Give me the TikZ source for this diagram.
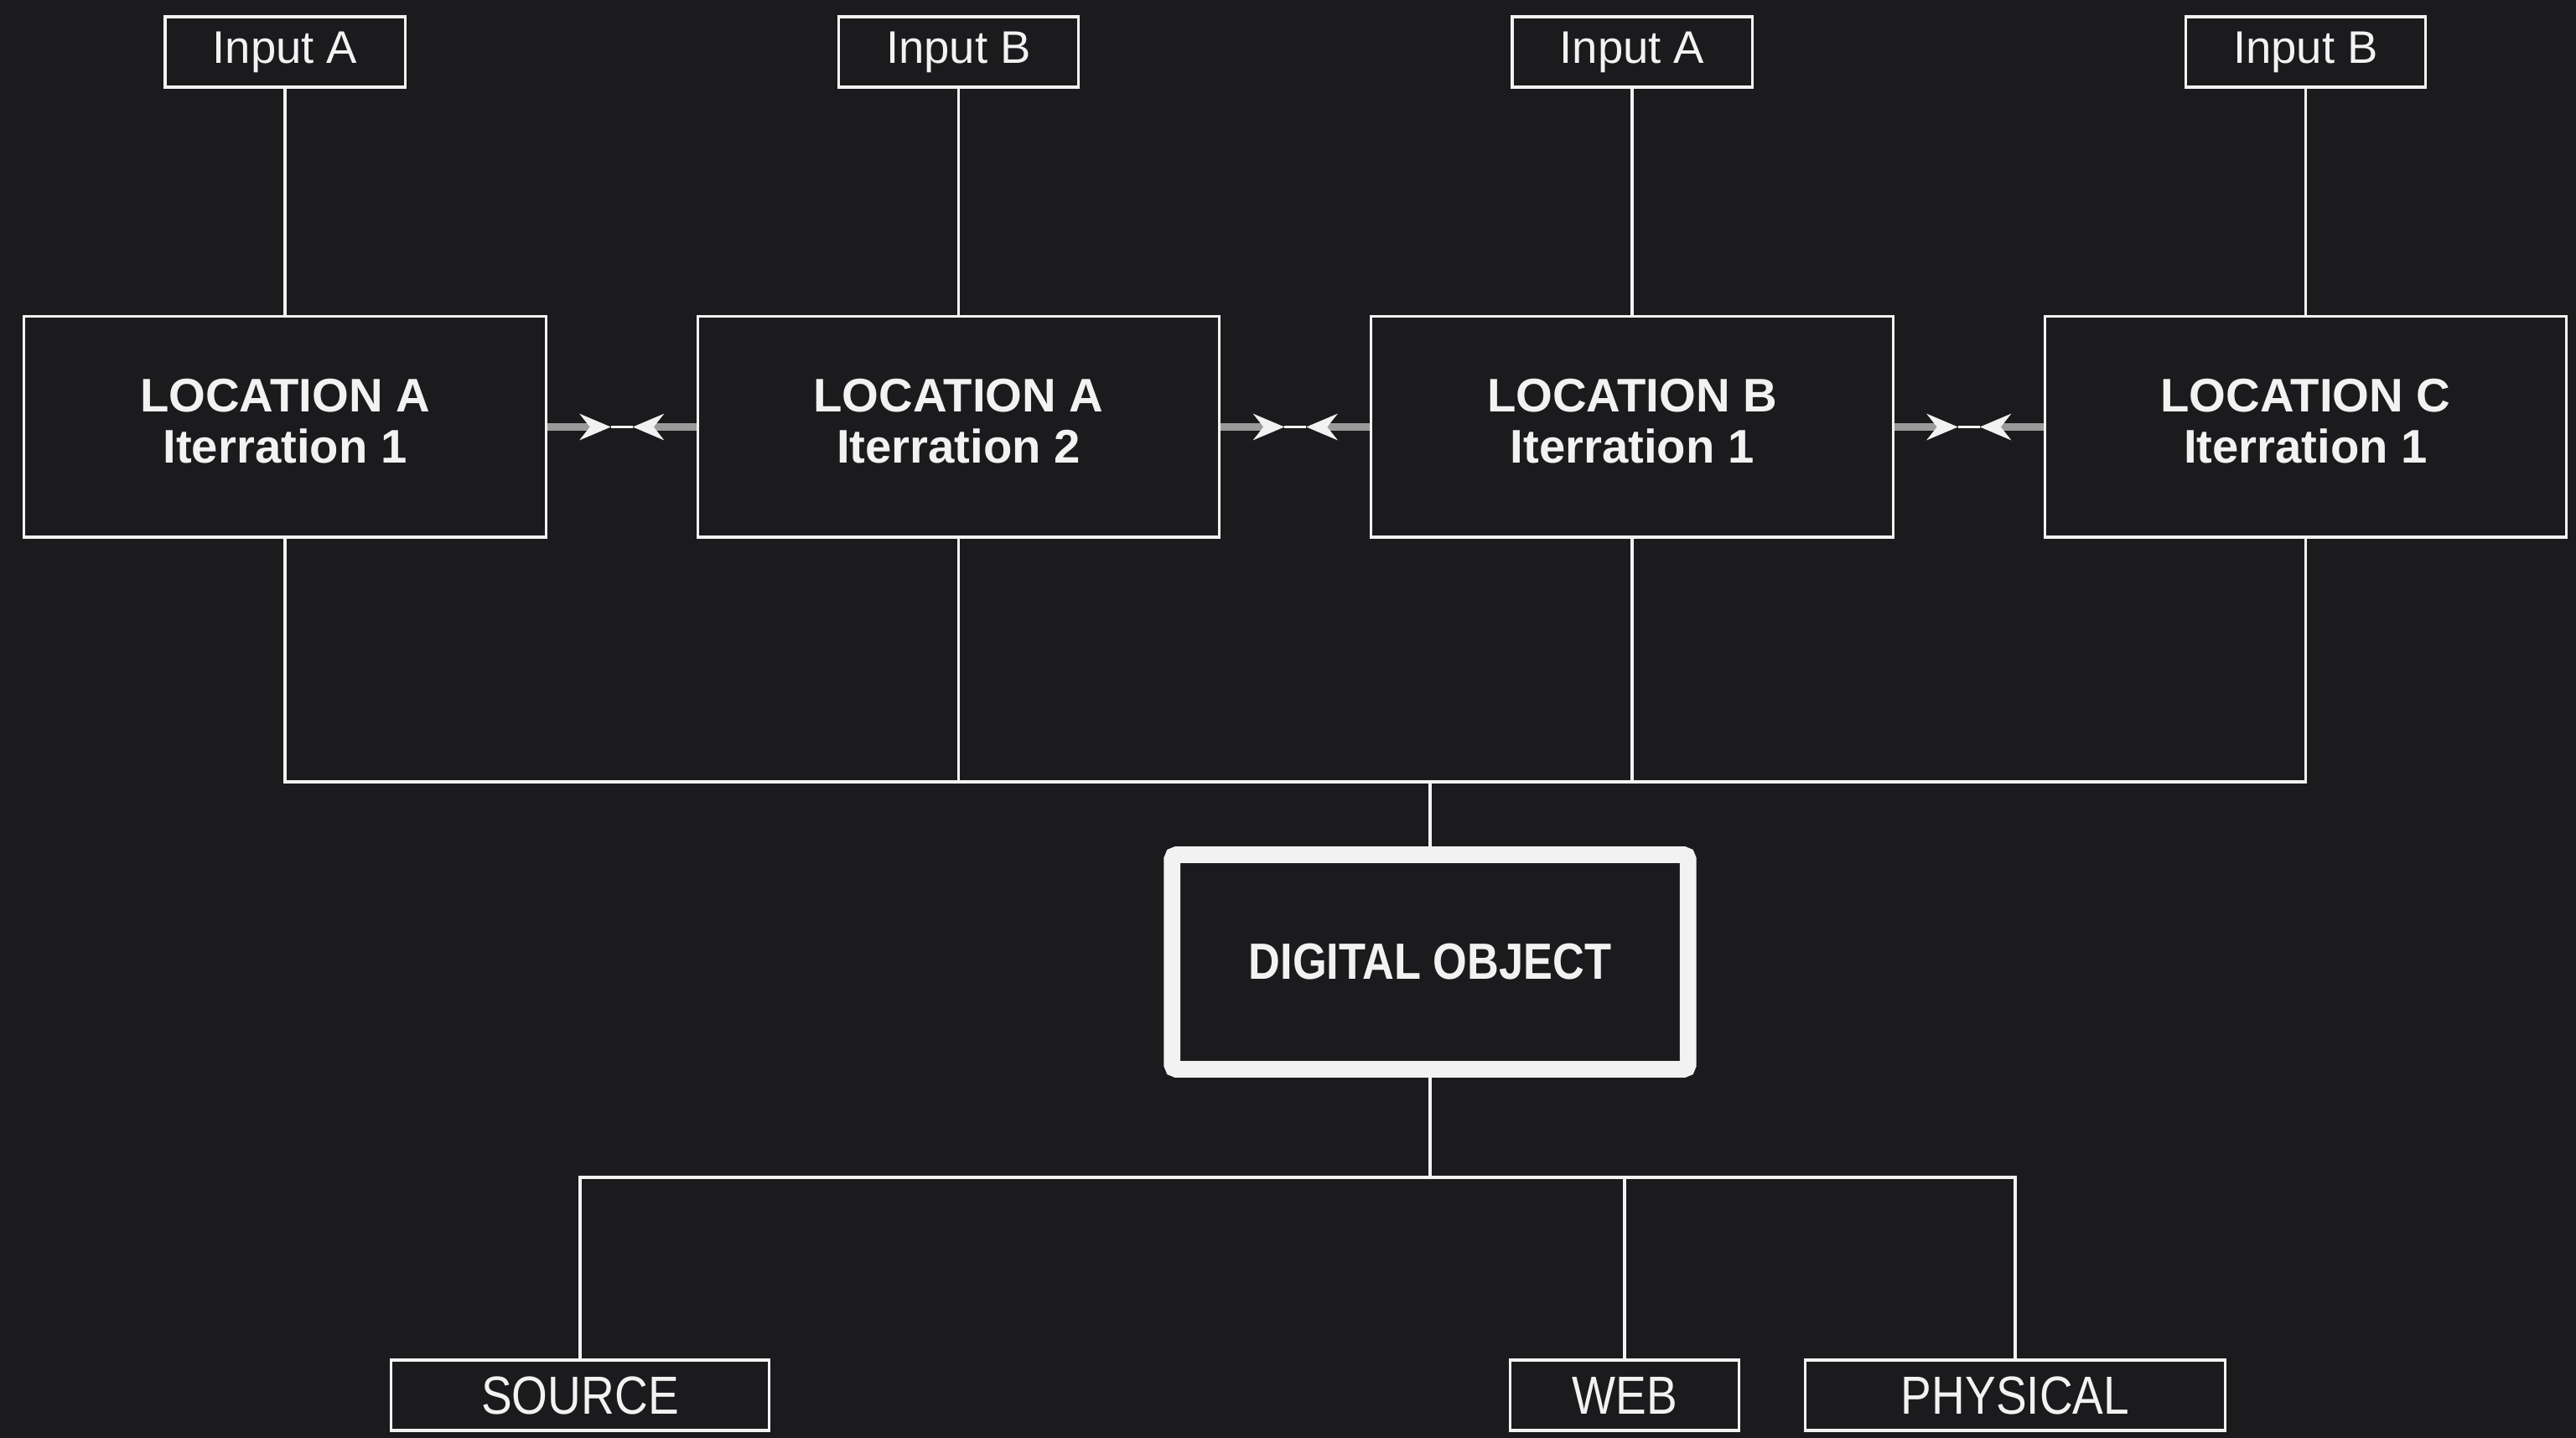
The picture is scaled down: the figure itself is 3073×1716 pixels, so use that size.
\documentclass[tikz,border=0pt]{standalone}
\usepackage{fontspec}
\setmainfont{Liberation Sans}
\newfontfamily\condfont[FakeStretch=0.86]{Liberation Sans}
\usetikzlibrary{arrows.meta,calc}
\definecolor{bgc}{HTML}{1B1A1D}
\definecolor{fgc}{HTML}{F2F2F2}
\definecolor{shaft}{HTML}{9A9A9A}
\tikzset{
  inbox/.style={draw=fgc, line width=0.9pt, text=fgc, minimum width=2.86cm, minimum height=0.84cm, inner sep=0pt, font=\fontsize{15.5}{17}\selectfont},
  locbox/.style={draw=fgc, line width=0.9pt, text=fgc, minimum width=6.22cm, minimum height=2.63cm, inner sep=0pt, align=center, font=\bfseries\fontsize{16}{17.4}\selectfont},
  dobox/.style={draw=fgc, line width=5.6pt, text=fgc, minimum width=6.15cm, minimum height=2.56cm, inner sep=0pt, rounded corners=1.5pt, font=\bfseries\condfont\fontsize{17.3}{18}\selectfont},
  outbox/.style={draw=fgc, line width=0.9pt, text=fgc, minimum height=0.84cm, inner sep=0pt, font=\condfont\fontsize{18.2}{19}\selectfont},
  wire/.style={draw=fgc, line width=0.9pt},
  link/.style={draw=shaft, line width=2.5pt, -{Stealth[length=0.37cm, width=0.31cm, inset=0.12cm, color=fgc]}},
  gap/.style={draw=fgc, line width=0.8pt}
}
\newcommand{\loclabel}[2]{\raisebox{0.06cm}{\begin{tabular}{@{}c@{}}#1\\#2\end{tabular}}}
\begin{document}
\begin{tikzpicture}[x=0.01cm, y=-0.01cm]
\fill[bgc] (0,0) rectangle (3073,1716);
\useasboundingbox (0,0) rectangle (3073,1716);
% location boxes
\node[locbox] (l1) at (340,509.5) {\loclabel{LOCATION A}{Iterration 1}};
\node[locbox] (l2) at (1143.5,509.5) {\loclabel{LOCATION A}{Iterration 2}};
\node[locbox] (l3) at (1947,509.5) {\loclabel{LOCATION B}{Iterration 1}};
\node[locbox] (l4) at (2750.5,509.5) {\loclabel{LOCATION C}{Iterration 1}};
% inputs
\node[inbox] (i1) at (340,62) {Input A};
\node[inbox] (i2) at (1143.5,62) {Input B};
\node[inbox] (i3) at (1947,62) {Input A};
\node[inbox] (i4) at (2750.5,62) {Input B};
\foreach \k in {1,2,3,4}{\draw[wire] (i\k.south) -- (l\k.north);}
% links between locations
\foreach \a/\b in {l1/l2,l2/l3,l3/l4}{
  \coordinate (\a-m) at ($(\a.east)!0.5!(\b.west)$);
  \coordinate (\a-ta) at ($(\a-m)+(-13,0)$);
  \coordinate (\a-tb) at ($(\a-m)+(13,0)$);
  \draw[link] (\a.east) -- (\a-ta);
  \draw[link] (\b.west) -- (\a-tb);
  \draw[gap] (\a-ta) -- (\a-tb);
}
% digital object
\node[dobox] (do) at (1706,1148) {DIGITAL OBJECT};
\coordinate (bt) at (1706,933);
\draw[wire] (l1.south) |- (bt);
\draw[wire] (l4.south) |- (bt);
\draw[wire] (l2.south) -- (l2.south |- bt);
\draw[wire] (l3.south) -- (l3.south |- bt);
\draw[wire] (bt) -- (do.north);
% outputs
\node[outbox, minimum width=4.51cm] (o1) at (692,1665) {SOURCE};
\node[outbox, minimum width=2.73cm] (o2) at (1938,1665) {WEB};
\node[outbox, minimum width=5.00cm] (o3) at (2404,1665) {PHYSICAL};
\coordinate (bb) at (1706,1405);
\draw[wire] (do.south) -- (bb);
\draw[wire] (bb) -| (o1.north);
\draw[wire] (bb) -| (o3.north);
\draw[wire] (o2.north) -- (o2.north |- bb);
\end{tikzpicture}
\end{document}
